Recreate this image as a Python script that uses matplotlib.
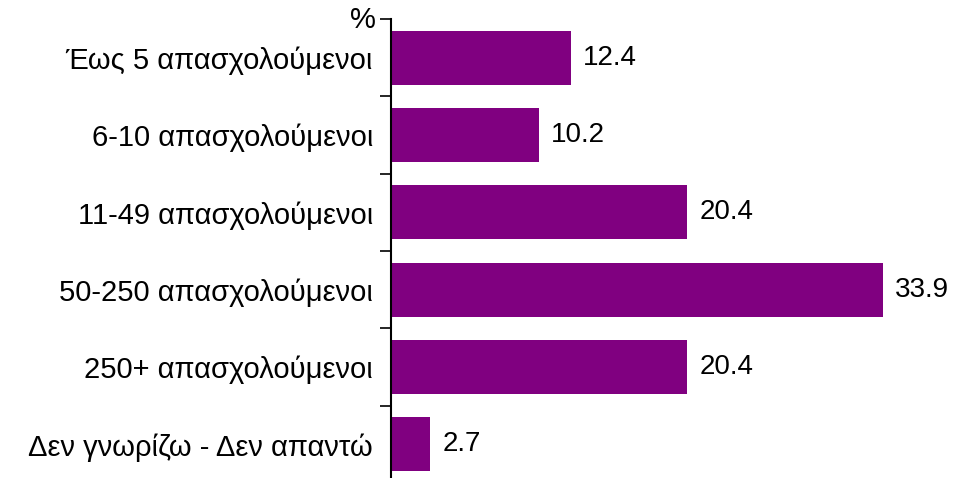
import matplotlib
matplotlib.use("Agg")
import matplotlib.pyplot as plt
import numpy as np

# 数据
categories = ["Έως 5 απασχολούμενοι", "6-10 απασχολούμενοι", "11-49 απασχολούμενοι",
              "50-250 απασχολούμενοι", "250+ απασχολούμενοι", "Δεν γνωρίζω - Δεν απαντώ"]
values = [12.4, 10.2, 20.4, 33.9, 20.4, 2.7]

plt.rcParams['font.family'] = ['Liberation Sans', 'DejaVu Sans']

fig = plt.figure(figsize=(9.55, 4.78), dpi=100)
W, H = 955, 478
left, right, top, bottom = 391, 942, 19, 483
ax = fig.add_axes([left / W, 1 - bottom / H, (right - left) / W, (bottom - top) / H])

y = np.arange(len(categories))
ax.barh(y, values, height=0.7, color="#800080")

ax.set_xlim(0, (right - left) / 14.5)
ax.set_ylim(len(categories) - 0.5, -0.5)

# 数值标签
for yi, v in zip(y, values):
    ax.text(v + 0.85, yi, f"{v:.1f}", va="center", ha="left", fontsize=20)

# 坐标轴样式
for s in ["top", "right", "bottom"]:
    ax.spines[s].set_visible(False)
ax.spines["left"].set_linewidth(1.5)
ax.set_xticks([])
ax.set_yticks(y)
ax.set_yticklabels(categories, fontsize=21)
ax.tick_params(axis="y", which="major", length=0, pad=13)
ax.set_yticks(np.arange(-0.5, len(categories) + 0.5, 1), minor=True)
ax.tick_params(axis="y", which="minor", length=8, width=1.2, direction="out")

fig.text(363 / W, 1 - 20 / H, "%", ha="center", va="center", fontsize=21)

plt.savefig("out.png", dpi=100)
